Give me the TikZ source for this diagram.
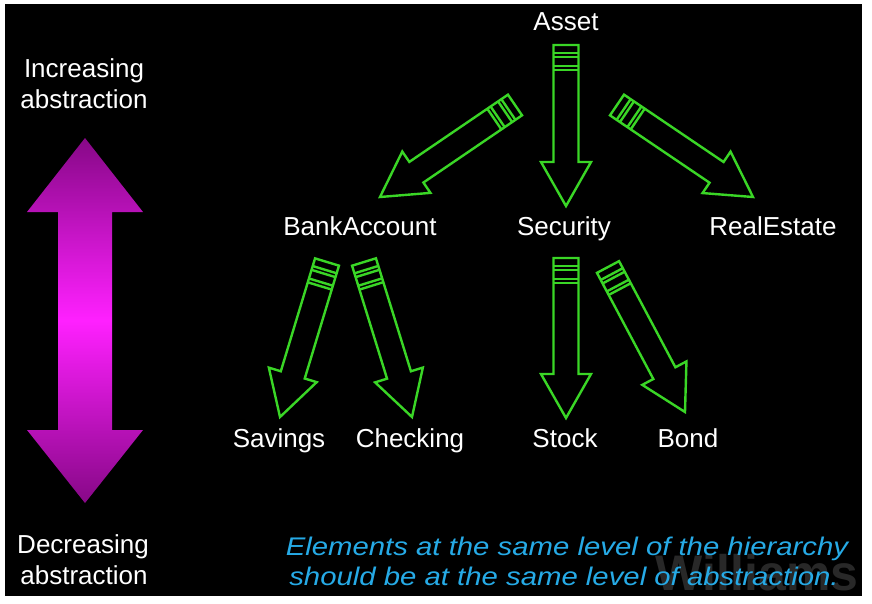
\documentclass[tikz,border=0pt]{standalone}
\usepackage{fontspec}
\setmainfont{Liberation Sans}
\usetikzlibrary{calc}

\definecolor{arrgreen}{RGB}{58,214,38}
\definecolor{hintblue}{RGB}{38,170,230}
\definecolor{magdark}{RGB}{135,8,135}
\definecolor{magbright}{RGB}{255,32,255}
\definecolor{markgray}{RGB}{40,40,40}

\tikzset{
  hollowarrow/.style={draw=arrgreen, line width=2.4pt, line join=miter},
  label/.style={text=white, font=\fontsize{26}{31}\selectfont, inner sep=0pt, anchor=base},
  sidetext/.style={text=white, font=\fontsize{26}{31}\selectfont, inner sep=0pt, anchor=base},
  notetext/.style={text=hintblue, font=\fontsize{25.5}{30}\selectfont\itshape, inner sep=0pt, anchor=base},
}

% hollow green arrow with a banded tail, from coordinate #1 to coordinate #2
\newcommand\bandarrow[2]{%
  \path let \p1=($(#2)-(#1)$), \n1={atan2(\y1,\x1)}, \n2={veclen(\x1,\y1)} in
    \pgfextra{\pgfmathparse{\n1}\xdef\garang{\pgfmathresult}%
              \pgfmathparse{\n2}\xdef\garlen{\pgfmathresult}};
  \begin{scope}[shift={(#1)}, rotate=\garang]
    \pgfmathsetmacro\garbase{\garlen-44}
    \draw[hollowarrow] (0pt,-12.5pt) -- (\garbase pt,-12.5pt) -- (\garbase pt,-25pt)
      -- (\garlen pt,0pt) -- (\garbase pt,25pt) -- (\garbase pt,12.5pt) -- (0pt,12.5pt) -- cycle;
    \foreach \t in {8,12,21,25}
      \draw[hollowarrow] (\t pt,-12.5pt) -- (\t pt,12.5pt);
  \end{scope}}

\begin{document}
\begin{tikzpicture}[x=1pt, y=-1pt]
  \useasboundingbox (0,0) rectangle (872,603);
  \fill[white] (0,0) rectangle (872,603);
  \fill[black] (5,4) rectangle (862,596);

  % vertical double arrow
  \shade[top color=magdark, bottom color=magdark, middle color=magbright]
    (85,138) -- (143,212) -- (112,212) -- (112,430) -- (143,430) -- (85,503)
    -- (27,430) -- (58,430) -- (58,212) -- (27,212) -- cycle;

  \node[sidetext] (inc1) at (84,77) {Increasing};
  \node[sidetext] (inc2) at (84,108) {abstraction};
  \node[sidetext] (dec1) at (83,553) {Decreasing};
  \node[sidetext] (dec2) at (84,584) {abstraction};

  % class hierarchy
  \node[label] (asset) at (566,30) {Asset};
  \node[label] (bank) at (360,235) {BankAccount};
  \node[label] (sec) at (564,235) {Security};
  \node[label] (real) at (773,235) {RealEstate};
  \node[label] (sav) at (279,447) {Savings};
  \node[label] (chk) at (410,447) {Checking};
  \node[label] (stock) at (565,447) {Stock};
  \node[label] (bond) at (688,447) {Bond};

  % arrow ends
  \coordinate (asset-b) at (515,105);  \coordinate (bank-in) at (380,197);
  \coordinate (asset-s) at (566,45);   \coordinate (sec-in) at (566,206);
  \coordinate (asset-r) at (617,105);  \coordinate (real-in) at (753,197);
  \coordinate (bank-s) at (327,262);   \coordinate (sav-in) at (280,417);
  \coordinate (bank-c) at (364,262);   \coordinate (chk-in) at (412,417);
  \coordinate (sec-s) at (566,258);    \coordinate (stock-in) at (566,418);
  \coordinate (sec-b) at (608,267);    \coordinate (bond-in) at (685,412);

  \bandarrow{asset-b}{bank-in}
  \bandarrow{asset-s}{sec-in}
  \bandarrow{asset-r}{real-in}
  \bandarrow{bank-s}{sav-in}
  \bandarrow{bank-c}{chk-in}
  \bandarrow{sec-s}{stock-in}
  \bandarrow{sec-b}{bond-in}

  % watermark and note
  \node[text=markgray, font=\fontsize{50}{56}\selectfont\bfseries, inner sep=0pt, anchor=base]
    (mark) at (757,590) {Williams};
  \node[notetext] (note1) at (567,555) {\scalebox{1.15}[1]{Elements at the same level of the hierarchy}};
  \node[notetext] (note2) at (564,585) {\scalebox{1.15}[1]{should be at the same level of abstraction.}};
\end{tikzpicture}
\end{document}
